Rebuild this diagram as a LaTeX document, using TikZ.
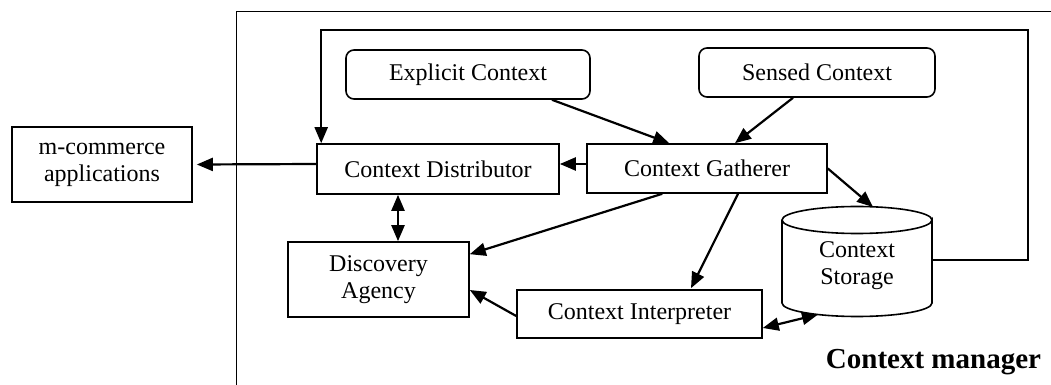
\documentclass[tikz,border=0pt]{standalone}
\usepackage{fontspec}
\setmainfont{Liberation Serif}
\usetikzlibrary{arrows.meta,calc}

\begin{document}
\begin{tikzpicture}[x=0.5pt,y=-0.5pt,
  every node/.style={font=\fontsize{12}{13.5}\selectfont, align=center, inner sep=0pt},
  box/.style={draw, line width=0.8pt, rectangle},
  roundbox/.style={box, rounded corners=4pt},
  tip/.tip={Triangle[length=8pt,width=6.5pt]},
  conn/.style={line width=1.1pt, -tip},
  biconn/.style={line width=1.1pt, tip-tip},
  frame/.style={line width=0.5pt}
]
\useasboundingbox (0,0) rectangle (1051,385);

% boundary of the context manager
\draw[frame] (236,385) -- (236,12) -- (1051,12);
\node[font=\fontsize{14.5}{16}\selectfont\bfseries, anchor=base] (title) at (933.5,368) {Context manager};

% components
\node[box, minimum width=90pt, minimum height=37.5pt] (mcom) at (102,164.5) {m-commerce\\applications};
\node[box, minimum width=121pt, minimum height=25pt] (dist) at (438,169) {Context Distributor};
\node[box, minimum width=120pt, minimum height=24.5pt] (gath) at (707,168.5) {Context Gatherer};
\node[roundbox, minimum width=122pt, minimum height=24.5pt] (expl) at (468,74.5) {Explicit Context};
\node[roundbox, minimum width=118pt, minimum height=24.5pt] (sens) at (817,72.5) {Sensed Context};
\node[box, minimum width=90.5pt, minimum height=37.5pt] (disc) at (378.5,279.5) {Discovery\\Agency};
\node[box, minimum width=122.5pt, minimum height=24pt] (interp) at (639.5,314) {Context Interpreter};

% storage cylinder
\coordinate (cylT) at (857,220);
\coordinate (cylB) at (857,303);
\draw[line width=0.8pt] ($(cylT)+(-75,0)$) -- ($(cylB)+(-75,0)$)
  arc[start angle=180, end angle=360, x radius=75, y radius=-13.5]
  -- ($(cylT)+(75,0)$)
  arc[start angle=0, end angle=-180, x radius=75, y radius=-13.5]
  arc[start angle=180, end angle=0, x radius=75, y radius=-13.5];
\node (stor) at (857,266) {Context\\Storage};
\coordinate (storIn) at (873,207);
\coordinate (storLow) at (818,314.5);
\coordinate (storOut) at (932,260);
\coordinate (loopR) at (1028,30);

% connectors
\draw[conn] ([yshift=2.5pt]dist.west) -- ([xshift=2pt]mcom.east);
\draw[conn] ([yshift=2.25pt]gath.west) -- ([yshift=2.5pt]dist.east);
\draw[conn] ($(expl.south)+(84,0)$) -- ($(gath.north west)+(83,0)$);
\draw[conn] ($(sens.south)+(-24,0)$) -- ($(gath.north)+(28,0)$);
\draw[conn] (gath.east) -- (storIn);
\draw[conn] ($(gath.south west)+(76,0)$) -- ($(disc.north east)+(0,13)$);
\draw[conn] ($(gath.south)+(31,0)$) -- ($(interp.north)+(51.5,-1)$);
\draw[conn] ($(interp.west)+(0,2)$) -- ($(disc.east)+(0,10.5)$);
\draw[biconn] ($(interp.east)+(0,14)$) -- (storLow);
\draw[biconn] ($(dist.south)+(-40,0)$) -- ($(disc.north)+(19.5,0)$);
\draw[conn] (storOut) -| (loopR) -| ($(dist.north west)+(5,0)$);
\end{tikzpicture}
\end{document}
